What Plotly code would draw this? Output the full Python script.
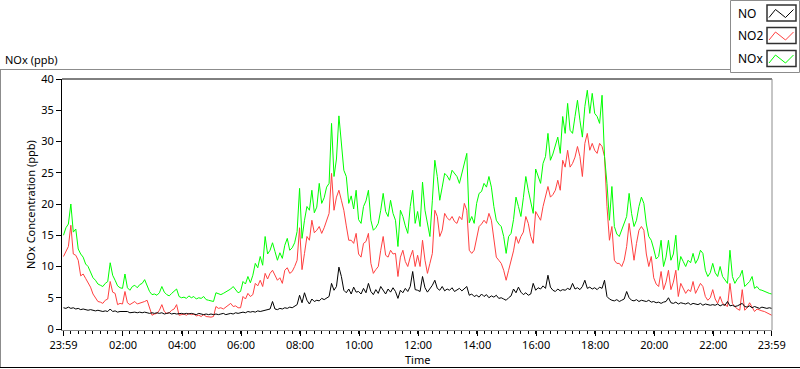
import pandas as pd
import plotly.graph_objects as go

# ---- data (5-minute readings, 23:59 -> 23:59) ----
no_ppb = [
    3.4, 3.3, 3.5, 3.3, 3.4, 3.2, 3.3, 3.1, 3.2, 3.1, 3.0, 3.1,
    3.0, 2.9, 3.0, 2.9, 2.8, 2.9, 2.8, 3.2, 2.8, 2.9, 2.7, 2.8,
    2.8, 2.7, 2.8, 2.6, 2.7, 2.7, 2.6, 2.7, 2.6, 2.7, 2.6, 2.5,
    2.6, 2.5, 2.6, 2.5, 2.6, 2.4, 2.5, 2.6, 2.4, 2.5, 2.4, 2.5,
    2.5, 2.4, 2.5, 2.4, 2.5, 2.4, 2.3, 2.5, 2.4, 2.3, 2.4, 2.3,
    2.4, 2.3, 2.4, 2.3, 2.4, 2.5, 2.3, 2.4, 2.5, 2.4, 2.6, 2.5,
    2.6, 2.7, 2.6, 2.8, 2.7, 2.8, 2.7, 2.9, 2.8, 2.9, 3.0, 3.0,
    3.2, 4.4, 3.2, 3.1, 3.3, 3.2, 3.4, 3.3, 3.5, 3.4, 3.6, 3.9,
    5.4, 4.2, 5.8, 4.6, 4.0, 4.8, 4.4, 4.6, 4.5, 4.9, 4.7, 5.0,
    5.2, 7.3, 6.2, 6.8, 9.9, 8.4, 6.2, 5.8, 6.4, 5.6, 6.7, 5.9,
    6.0, 5.6, 6.5, 5.8, 7.3, 6.0, 5.5, 6.3, 5.7, 6.8, 6.1, 5.6,
    6.4, 5.9, 6.6, 6.0, 4.9, 6.2, 5.8, 6.5, 6.0, 6.8, 9.2, 6.3,
    6.2, 6.0, 8.4, 6.6, 5.9, 6.4, 7.0, 7.8, 6.5, 6.2, 6.8, 6.1,
    6.4, 6.2, 6.6, 6.0, 6.3, 6.5, 6.1, 6.4, 6.8, 5.4, 5.6, 5.2,
    5.4, 5.1, 5.6, 5.2, 5.5, 5.0, 5.3, 5.1, 5.4, 4.9, 5.0, 4.8,
    4.6, 5.0, 5.3, 6.4, 5.8, 6.7, 5.9, 5.5, 5.8, 5.4, 5.6, 7.3,
    6.2, 6.6, 6.4, 6.9, 6.5, 8.6, 6.7, 6.2, 6.0, 6.4, 6.1, 6.3,
    6.2, 6.5, 6.3, 7.3, 6.4, 6.6, 6.3, 6.8, 7.8, 6.5, 6.7, 6.4,
    6.6, 6.3, 6.7, 6.5, 7.8, 5.2, 4.8, 4.6, 4.5, 4.7, 4.4, 4.6,
    4.8, 6.0, 5.0, 4.6, 4.5, 4.7, 4.4, 4.6, 4.5, 4.4, 4.6, 4.3,
    4.4, 4.2, 4.3, 4.1, 4.3, 4.4, 5.0, 4.2, 4.1, 4.3, 4.0, 4.2,
    4.1, 4.0, 4.2, 3.9, 4.1, 4.0, 3.9, 4.1, 3.8, 4.0, 3.9, 3.8,
    3.9, 3.8, 4.0, 3.7, 3.9, 3.8, 4.4, 3.7, 3.8, 3.6, 3.7, 3.9,
    4.1, 3.6, 3.5, 3.7, 3.4, 3.6, 3.5, 3.3, 3.5, 3.4, 3.3, 3.4,
    3.3,
]

no2_ppb = [
    11.6, 12.5, 13.2, 16.6, 12.0, 11.8, 11.0, 8.5, 8.8, 8.1, 7.4, 6.7,
    5.6, 5.0, 4.4, 4.3, 4.1, 4.6, 4.8, 7.6, 5.9, 5.7, 3.9, 4.1,
    4.0, 6.0, 4.2, 3.9, 4.2, 4.4, 4.0, 4.1, 4.3, 4.4, 4.6, 3.4,
    2.2, 2.4, 2.5, 3.0, 3.9, 2.8, 2.5, 2.6, 3.0, 3.2, 3.9, 2.2,
    2.3, 2.4, 2.2, 2.5, 2.3, 2.4, 2.1, 2.2, 2.0, 2.3, 2.0, 1.9,
    1.9, 2.0, 3.6, 3.3, 3.4, 3.2, 3.5, 3.8, 4.1, 3.6, 3.7, 3.4,
    3.4, 5.2, 4.8, 5.7, 5.2, 5.5, 7.3, 6.9, 7.8, 6.8, 8.9, 8.0,
    8.9, 9.4, 8.6, 7.8, 8.2, 7.3, 9.4, 9.8, 8.9, 9.2, 10.0, 11.0,
    16.2, 9.5, 12.1, 14.8, 14.2, 17.4, 15.4, 15.8, 16.4, 15.3, 16.2, 17.4,
    18.5, 24.9, 19.0, 21.1, 22.2, 20.6, 19.0, 16.5, 14.2, 14.2, 13.7, 15.3,
    12.0, 11.5, 13.7, 14.0, 15.3, 10.5, 8.9, 9.5, 10.0, 12.6, 14.8, 11.8,
    11.5, 12.6, 12.0, 12.1, 8.4, 11.5, 12.6, 10.8, 10.0, 11.5, 12.6, 10.0,
    11.8, 10.0, 14.2, 11.0, 8.9, 10.5, 12.1, 19.0, 18.0, 14.8, 15.8, 18.5,
    17.8, 17.4, 18.0, 17.2, 16.9, 18.0, 17.5, 20.1, 19.0, 12.6, 12.1, 12.6,
    14.8, 16.4, 16.8, 17.4, 16.9, 18.5, 17.4, 14.2, 11.5, 11.0, 10.5, 9.4,
    7.8, 9.4, 11.0, 12.5, 14.8, 13.7, 14.8, 15.5, 18.0, 16.9, 14.8, 13.7,
    18.8, 18.0, 17.4, 19.6, 21.1, 22.8, 21.1, 21.5, 22.2, 23.8, 22.2, 27.0,
    25.9, 28.6, 25.9, 26.5, 27.5, 29.2, 27.6, 24.4, 29.7, 31.3, 28.6, 29.7,
    28.6, 28.1, 29.7, 29.2, 27.6, 19.6, 14.2, 16.4, 11.0, 10.5, 10.5, 10.0,
    11.0, 13.2, 16.9, 13.7, 11.0, 13.7, 15.8, 16.4, 15.8, 12.0, 10.0, 11.6,
    8.2, 7.2, 6.8, 9.2, 6.3, 7.5, 9.4, 6.3, 7.5, 9.4, 5.2, 7.3,
    6.5, 5.7, 6.3, 6.0, 7.6, 5.7, 6.5, 7.3, 6.8, 5.2, 4.6, 5.0,
    6.3, 4.8, 4.1, 5.2, 4.1, 3.8, 3.6, 7.3, 4.1, 3.6, 3.2, 3.0,
    6.3, 3.0, 3.4, 4.2, 3.6, 2.8, 3.2, 3.0, 2.9, 2.8, 2.6, 2.5,
    2.2,
]

nox_ppb = [
    15.0, 16.2, 16.8, 20.0, 15.5, 16.0, 12.8, 12.0, 11.5, 10.4, 10.0, 9.2,
    8.2, 7.8, 7.2, 7.0, 6.8, 7.3, 7.6, 10.6, 8.6, 7.8, 6.9, 6.6,
    6.5, 8.8, 6.6, 6.2, 6.8, 7.0, 6.6, 7.1, 7.3, 7.9, 6.9, 6.0,
    5.5, 5.6, 5.4, 5.8, 6.8, 5.9, 5.5, 5.3, 5.7, 6.0, 6.4, 5.2,
    5.0, 5.1, 4.9, 5.3, 5.0, 5.2, 4.8, 5.0, 4.9, 5.2, 4.7, 4.6,
    4.5, 4.4, 5.8, 5.6, 5.5, 5.7, 5.9, 6.2, 6.4, 6.8, 6.2, 5.8,
    6.0, 7.6, 7.2, 8.4, 7.4, 8.6, 10.5, 9.8, 11.6, 10.2, 14.8, 12.0,
    12.6, 13.8, 12.4, 11.0, 12.2, 11.3, 13.4, 14.5, 12.6, 13.0, 13.8, 15.6,
    22.5, 14.5, 17.4, 19.6, 19.0, 22.2, 18.6, 19.5, 23.3, 20.1, 21.0, 22.7,
    23.3, 32.9, 24.4, 27.2, 34.1, 29.0, 25.4, 24.4, 20.1, 21.3, 19.2, 22.2,
    17.5, 16.9, 19.6, 20.5, 22.2, 17.4, 15.8, 16.2, 16.9, 19.0, 21.7, 18.8,
    18.0, 20.6, 18.5, 17.4, 13.2, 19.0, 18.0, 16.5, 15.3, 19.6, 22.2, 16.9,
    18.8, 16.4, 23.5, 19.0, 17.0, 14.8, 20.6, 27.0, 24.4, 20.6, 22.7, 24.9,
    24.5, 23.8, 25.4, 24.8, 24.4, 23.3, 25.0, 26.5, 28.1, 17.0, 18.0, 16.9,
    20.1, 21.7, 22.0, 23.3, 22.7, 24.4, 22.7, 19.6, 17.4, 16.8, 16.4, 14.8,
    12.1, 14.8, 15.3, 17.5, 21.1, 19.6, 18.0, 21.0, 24.4, 22.2, 20.1, 18.5,
    25.6, 24.4, 23.3, 26.5, 27.6, 31.3, 27.0, 28.0, 29.2, 30.7, 28.1, 34.0,
    31.3, 36.1, 31.8, 31.3, 34.0, 36.6, 33.4, 30.7, 35.6, 38.2, 34.5, 37.7,
    34.5, 34.0, 32.9, 37.4, 27.6, 23.3, 17.4, 22.8, 16.4, 15.2, 14.8, 15.8,
    16.9, 18.0, 21.7, 18.5, 16.4, 17.4, 19.6, 21.1, 20.1, 16.8, 14.8, 14.2,
    12.8, 11.2, 11.6, 14.2, 10.0, 11.5, 14.2, 11.0, 12.0, 15.0, 9.4, 11.6,
    10.8, 10.0, 11.0, 10.6, 12.1, 10.5, 11.2, 12.6, 12.1, 9.4, 8.4, 9.0,
    10.5, 9.0, 8.4, 10.0, 8.4, 7.8, 7.3, 12.6, 8.4, 7.3, 8.0, 8.4,
    9.4, 6.8, 7.2, 7.6, 8.4, 6.5, 6.8, 6.3, 6.2, 6.0, 5.8, 5.7,
    5.6,
]

start_time = "2021-01-01 23:59"
times = pd.date_range(start_time, periods=len(nox_ppb), freq="5min")

major_tick_times = ["2021-01-01 23:59", "2021-01-02 02:00", "2021-01-02 04:00",
                    "2021-01-02 06:00", "2021-01-02 08:00", "2021-01-02 10:00",
                    "2021-01-02 12:00", "2021-01-02 14:00", "2021-01-02 16:00",
                    "2021-01-02 18:00", "2021-01-02 20:00", "2021-01-02 22:00",
                    "2021-01-02 23:59"]
major_tick_labels = ["23:59", "02:00", "04:00", "06:00", "08:00", "10:00",
                     "12:00", "14:00", "16:00", "18:00", "20:00", "22:00", "23:59"]
minor_tick_times = list(pd.date_range("2021-01-02 00:14", "2021-01-02 23:45", freq="15min"))
y_ticks = [0, 5, 10, 15, 20, 25, 30, 35, 40]

series_names = ["NO", "NO2", "NOx"]
series_colors = ["#000000", "#ff4040", "#00ff00"]

FONT = "Noto Sans"
FS = 11
W, H = 800, 369
L, R, T, B = 62, 772, 79, 330


def px(x):
    return (x - L) / (R - L)


def py(y):
    return (B - y) / (B - T)


fig = go.Figure()
for name, vals, col in [("NO2", no2_ppb, series_colors[1]),
                        ("NOx", nox_ppb, series_colors[2]),
                        ("NO", no_ppb, series_colors[0])]:
    fig.add_trace(go.Scatter(x=times, y=vals, mode="lines", name=name,
                             line=dict(color=col, width=1),
                             showlegend=False, hoverinfo="skip"))

fig.update_layout(
    width=W, height=H, autosize=False,
    margin=dict(l=L, r=W - R, t=T, b=H - B, pad=0),
    paper_bgcolor="white", plot_bgcolor="white",
    font=dict(family=FONT, size=FS, color="#000000"),
    showlegend=False,
)
fig.update_xaxes(
    type="date",
    range=["2021-01-01 23:56", "2021-01-02 23:59:30"],
    tickmode="array", tickvals=major_tick_times, ticktext=major_tick_labels,
    ticks="outside", ticklen=5, tickwidth=1, tickcolor="#000000",
    showline=True, linecolor="#8c8c8c", linewidth=1, mirror=False,
    showgrid=False, zeroline=False,
    tickfont=dict(family=FONT, size=FS, color="#000000"),
    minor=dict(tickmode="array", tickvals=minor_tick_times, ticks="outside",
               ticklen=3, tickcolor="#000000", showgrid=False),
)
fig.update_yaxes(
    range=[-0.16, 40],
    tickmode="array", tickvals=y_ticks,
    ticks="outside", ticklen=5, tickwidth=1, tickcolor="#000000",
    showline=True, linecolor="#000000", linewidth=1,
    showgrid=False, zeroline=False,
    tickfont=dict(family=FONT, size=FS, color="#000000"),
)

shapes = []
shapes.append(dict(type="line", xref="paper", yref="paper", x0=0, x1=1, y0=1, y1=1,
                   line=dict(color="#000000", width=1)))
shapes.append(dict(type="line", xref="paper", yref="paper", x0=1, x1=1, y0=0, y1=1,
                   line=dict(color="#8c8c8c", width=1)))
shapes.append(dict(type="line", xref="paper", yref="paper", x0=px(0.5), x1=px(0.5),
                   y0=py(69.5), y1=py(368), line=dict(color="#8c8c8c", width=1)))
shapes.append(dict(type="line", xref="paper", yref="paper", x0=px(0), x1=px(730),
                   y0=py(69.5), y1=py(69.5), line=dict(color="#8c8c8c", width=1)))
shapes.append(dict(type="line", xref="paper", yref="paper", x0=px(0), x1=px(800),
                   y0=py(367.5), y1=py(367.5), line=dict(color="#000000", width=1)))
shapes.append(dict(type="rect", xref="paper", yref="paper", x0=px(730.5), x1=px(799.5),
                   y0=py(0.5), y1=py(72.5), line=dict(color="#8c8c8c", width=1),
                   fillcolor="white", layer="below"))
annotations = []
legend_rows = [13, 35.5, 58.5]
for name, col, yc in zip(series_names, series_colors, legend_rows):
    shapes.append(dict(type="rect", xref="paper", yref="paper",
                       x0=px(767), x1=px(796), y0=py(yc - 8), y1=py(yc + 8),
                       line=dict(color="#303030", width=1.5), fillcolor="white"))
    xs = [769, 775.5, 785.5, 793.5]
    ys = [yc + 4.5, yc - 3.5, yc + 4.5, yc - 3.5]
    path = "M " + " L ".join(f"{px(a)},{py(b)}" for a, b in zip(xs, ys))
    shapes.append(dict(type="path", xref="paper", yref="paper", path=path,
                       line=dict(color=col, width=1)))
    annotations.append(dict(xref="paper", yref="paper", x=px(736), y=py(yc),
                            text=name, showarrow=False, xanchor="left", yanchor="middle",
                            font=dict(family=FONT, size=12, color="#000000")))

annotations.append(dict(xref="paper", yref="paper", x=px(3), y=py(59), text="NOx (ppb)",
                        showarrow=False, xanchor="left", yanchor="middle",
                        font=dict(family=FONT, size=FS, color="#000000")))
annotations.append(dict(xref="paper", yref="paper", x=px(417), y=py(359), text="Time",
                        showarrow=False, xanchor="center", yanchor="middle",
                        font=dict(family=FONT, size=FS, color="#000000")))
annotations.append(dict(xref="paper", yref="paper", x=px(30), y=py(205),
                        text="NOx Concentration (ppb)", textangle=-90,
                        showarrow=False, xanchor="center", yanchor="middle",
                        font=dict(family=FONT, size=FS, color="#000000")))

fig.update_layout(shapes=shapes, annotations=annotations)
fig.write_html("out.html", config={"displayModeBar": False},
               post_script="document.body.style.margin='0';document.body.style.padding='0';")
